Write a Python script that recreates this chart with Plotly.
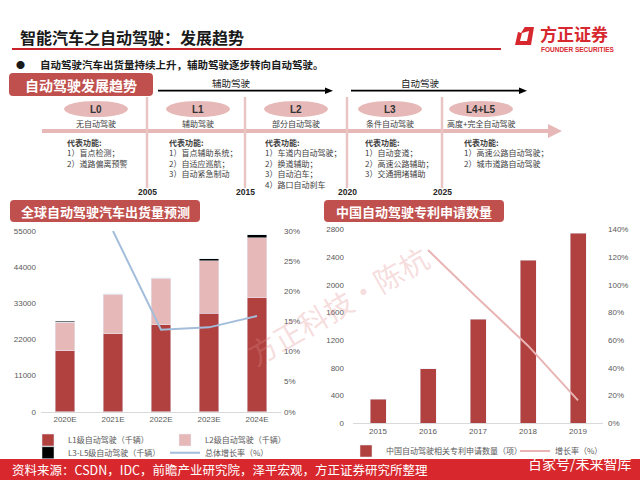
import plotly.graph_objects as go

# 全球自动驾驶汽车出货量预测（千辆）
ship_years = ["2020E", "2021E", "2022E", "2023E", "2024E"]
ship_l1 = [18500, 23700, 26400, 30000, 34700]
ship_l2 = [8800, 12000, 14200, 15900, 18300]
ship_l3_l5 = [300, 200, 200, 700, 900]
ship_growth = [None, 0.30, 0.136, 0.14, 0.159]

# 中国自动驾驶专利申请数量（项）
patent_years = ["2015", "2016", "2017", "2018", "2019"]
patent_counts = [350, 790, 1500, 2350, 2740]
patent_growth = [None, 1.25, 0.90, 0.56, 0.165]

# timeline text
stage_codes = ["L0", "L1", "L2", "L3", "L4+L5"]
stage_names = ["无自动驾驶", "辅助驾驶", "部分自动驾驶", "条件自动驾驶", "高度+完全自动驾驶"]
stage_features = [
    ["1）盲点检测；", "2）道路偏离预警"],
    ["1）盲点辅助系统；", "2）自适应巡航；", "3）自动紧急制动"],
    ["1）车道内自动驾驶；", "2）换道辅助；", "3）自动泊车；", "4）路口自动刹车"],
    ["1）自动变道；", "2）高速公路辅助；", "3）交通拥堵辅助"],
    ["1）高速公路自动驾驶；", "2）城市道路自动驾驶"],
]
milestone_years = ["2005", "2015", "2020", "2025"]

W, H = 640, 480
CJK = "Noto Sans CJK SC"
NUM = "Liberation Sans, Noto Sans CJK SC"
RED = "#B0413E"
PINK = "#E6B9B8"
TICK = dict(family=NUM, size=8, color="#595959")


def px(x):
    return x / W


def py(y):
    return 1 - y / H


def rrect(x0, y0, x1, y1, r):
    p = lambda x, y: f"{px(x):.5f},{py(y):.5f}"
    return (f"M {p(x0 + r, y0)} L {p(x1 - r, y0)} Q {p(x1, y0)} {p(x1, y0 + r)} "
            f"L {p(x1, y1 - r)} Q {p(x1, y1)} {p(x1 - r, y1)} L {p(x0 + r, y1)} "
            f"Q {p(x0, y1)} {p(x0, y1 - r)} L {p(x0, y0 + r)} Q {p(x0, y0)} {p(x0 + r, y0)} Z")


def poly(pts):
    return "M " + " L ".join(f"{px(x):.5f},{py(y):.5f}" for x, y in pts) + " Z"


fig = go.Figure()

# left chart
fig.add_trace(go.Bar(x=ship_years, y=ship_l1, name="L1级自动驾驶（千辆）", marker_color=RED,
                     width=0.4, xaxis="x", yaxis="y", legend="legend"))
fig.add_trace(go.Bar(x=ship_years, y=ship_l2, name="L2级自动驾驶（千辆）", marker_color=PINK,
                     width=0.4, xaxis="x", yaxis="y", legend="legend"))
fig.add_trace(go.Bar(x=ship_years, y=ship_l3_l5, name="L3-L5级自动驾驶（千辆）", marker_color="black",
                     width=0.4, xaxis="x", yaxis="y", legend="legend2"))
fig.add_trace(go.Scatter(x=ship_years, y=ship_growth, name="总体增长率（%）", mode="lines",
                         line=dict(color="#A3BDDA", width=2), xaxis="x", yaxis="y2", legend="legend2"))

# right chart
fig.add_trace(go.Bar(x=patent_years, y=patent_counts, name="中国自动驾驶相关专利申请数量（项）",
                     marker_color=RED, width=0.32, xaxis="x2", yaxis="y3", legend="legend3"))
fig.add_trace(go.Scatter(x=patent_years, y=patent_growth, name="增长率（%）", mode="lines",
                         line=dict(color="#E8B4B4", width=2), xaxis="x2", yaxis="y4", legend="legend4"))

shapes = []
annos = []

# title, rule, logo
annos.append(dict(x=px(18), y=py(37), xanchor="left", text="<b>智能汽车之自动驾驶：发展趋势</b>",
                  font=dict(family=CJK, size=16, color="#1a1a1a")))
shapes.append(dict(type="line", x0=px(12), x1=px(501), y0=py(49), y1=py(49),
                   line=dict(color="#C8232B", width=2)))
# logo mark: slanted square outline, open at the top-left
shapes.append(dict(type="path", path=poly([(515, 45), (518, 32), (523, 27), (534, 27), (531, 45)]),
                   fillcolor="#D7282F", line_width=0))
shapes.append(dict(type="path", path=poly([(520, 41), (522, 33), (529, 31), (527, 41)]),
                   fillcolor="white", line_width=0))
shapes.append(dict(type="path", path=poly([(516, 31), (523, 25), (526, 25), (521, 33)]),
                   fillcolor="white", line_width=0))
annos.append(dict(x=px(574), y=py(34), text="<b>方正证券</b>",
                  font=dict(family=CJK, size=17, color="#D7282F")))
annos.append(dict(x=px(578), y=py(49.5), text="<b>FOUNDER SECURITIES</b>",
                  font=dict(family=NUM, size=6.5, color="#D7282F")))

# bullet
annos.append(dict(x=px(20), y=py(65), text="●", font=dict(family=CJK, size=9, color="#1a1a1a")))
annos.append(dict(x=px(38), y=py(65), xanchor="left",
                  text="<b>自动驾驶汽车出货量持续上升，辅助驾驶逐步转向自动驾驶。</b>",
                  font=dict(family=CJK, size=10.5, color="#1a1a1a")))

# header boxes
shapes.append(dict(type="path", path=rrect(9, 73, 153, 96, 4), fillcolor="#C0504D", line_width=0))
annos.append(dict(x=px(81), y=py(84.5), text="<b>自动驾驶发展趋势</b>",
                  font=dict(family=CJK, size=14, color="white")))
shapes.append(dict(type="path", path=rrect(10, 200, 200, 222, 4), fillcolor="#C0504D", line_width=0))
annos.append(dict(x=px(105), y=py(211), text="<b>全球自动驾驶汽车出货量预测</b>",
                  font=dict(family=CJK, size=13, color="white")))
shapes.append(dict(type="path", path=rrect(324, 200, 504, 222, 4), fillcolor="#C0504D", line_width=0))
annos.append(dict(x=px(414), y=py(211), text="<b>中国自动驾驶专利申请数量</b>",
                  font=dict(family=CJK, size=13, color="white")))

# phase arrows
for x0, x1, label, lx in [(158, 333, "辅助驾驶", 231), (351, 527, "自动驾驶", 420)]:
    shapes.append(dict(type="line", x0=px(x0), x1=px(x1 - 6), y0=py(90.7), y1=py(90.7),
                       line=dict(color="black", width=1.8)))
    shapes.append(dict(type="path", path=poly([(x1 - 8, 87.5), (x1, 90.7), (x1 - 8, 94)]),
                       fillcolor="black", line_width=0))
    annos.append(dict(x=px(lx), y=py(82.5), text=label, font=dict(family=CJK, size=9.5, color="#1a1a1a")))

# timeline
shapes.append(dict(type="line", x0=px(42), x1=px(550), y0=py(131), y1=py(131),
                   line=dict(color=PINK, width=4)))
shapes.append(dict(type="path", path=poly([(548, 124), (562, 131), (548, 138)]),
                   fillcolor=PINK, line_width=0))
vx = [147, 245, 347, 442]
for x, yr in zip(vx, milestone_years):
    shapes.append(dict(type="line", x0=px(x), x1=px(x), y0=py(97), y1=py(188),
                       line=dict(color="#E8C4C4", width=2.5)))
    annos.append(dict(x=px(x), y=py(192), text=f"<b>{yr}</b>", font=dict(family=NUM, size=8.5, color="#262626")))

cx = [96, 198, 296, 390, 481]
fx = [65, 167, 263, 363, 462]
for i, code in enumerate(stage_codes):
    shapes.append(dict(type="circle", x0=px(cx[i] - 32), x1=px(cx[i] + 32), y0=py(117), y1=py(101),
                       fillcolor=PINK, line_width=0))
    annos.append(dict(x=px(cx[i]), y=py(110), text=f"<b>{code}</b>",
                      font=dict(family=NUM, size=10, color="#333333")))
    annos.append(dict(x=px(cx[i]), y=py(123.5), text=stage_names[i],
                      font=dict(family=CJK, size=8, color="#404040")))
    annos.append(dict(x=px(fx[i]), y=py(135), xanchor="left", yanchor="top", align="left",
                      text="<b>代表功能:</b><br>" + "<br>".join(stage_features[i]),
                      font=dict(family=CJK, size=8, color="#404040")))

# footer
shapes.append(dict(type="rect", x0=0, x1=1, y0=0, y1=py(459), fillcolor="#D8282E", line_width=0))
annos.append(dict(x=px(10), y=py(469.5), xanchor="left",
                  text="资料来源：CSDN，IDC，前瞻产业研究院，泽平宏观，方正证券研究所整理",
                  font=dict(family=CJK, size=12.5, color="white")))
annos.append(dict(x=px(634), y=py(463), xanchor="right", text="百家号/未来智库",
                  font=dict(family=CJK, size=14, color="white")))

# watermark
annos.append(dict(x=px(337), y=py(305), text="方正科技·陈杭", textangle=-30,
                  font=dict(family=CJK, size=29, color="rgba(225,140,140,0.3)")))

for a in annos:
    a.setdefault("xref", "paper")
    a.setdefault("yref", "paper")
    a.setdefault("xanchor", "center")
    a.setdefault("yanchor", "middle")
    a.setdefault("showarrow", False)
for s in shapes:
    s.setdefault("xref", "paper")
    s.setdefault("yref", "paper")

leg = dict(orientation="h", xanchor="left", yanchor="middle", entrywidth=92, entrywidthmode="pixels",
           font=dict(family=CJK, size=8, color="#595959"), itemwidth=30, bgcolor="rgba(0,0,0,0)",
           tracegroupgap=0, traceorder="normal")

fig.update_layout(
    width=W, height=H, autosize=False,
    margin=dict(l=0, r=0, t=0, b=0, autoexpand=False),
    paper_bgcolor="white", plot_bgcolor="rgba(0,0,0,0)",
    barmode="stack", bargap=0.6,
    font=dict(family=CJK),
    xaxis=dict(domain=[px(41), px(281)], anchor="y", showline=True, linecolor="#D9D9D9",
               tickfont=TICK, showgrid=False, fixedrange=True),
    yaxis=dict(domain=[py(411.7), py(231)], range=[0, 55000], tickvals=[0, 11000, 22000, 33000, 44000, 55000],
               tickformat="d", showgrid=False, zeroline=False, tickfont=TICK, ticklabelstandoff=4, anchor="x"),
    yaxis2=dict(overlaying="y", side="right", anchor="x", range=[0, 0.30], dtick=0.05, tickformat=".0%",
                showgrid=False, zeroline=False, tickfont=TICK, ticklabelstandoff=2),
    xaxis2=dict(domain=[px(353), px(603)], anchor="y3", showline=True, linecolor="#D9D9D9",
                tickfont=TICK, showgrid=False),
    yaxis3=dict(domain=[py(423.3), py(229.3)], range=[0, 2800], dtick=400, anchor="x2",
                showgrid=False, zeroline=False, tickfont=TICK, ticklabelstandoff=8),
    yaxis4=dict(overlaying="y3", side="right", anchor="x2", range=[0, 1.4], dtick=0.2, tickformat=".0%",
                showgrid=False, zeroline=False, tickfont=TICK, ticklabelstandoff=4),
    legend=dict(leg, x=px(28), y=py(440)),
    legend2=dict(leg, x=px(28), y=py(452.7)),
    legend3=dict(leg, x=px(346), y=py(451), entrywidth=0),
    legend4=dict(leg, x=px(515), y=py(451), entrywidth=0),
    shapes=shapes,
    annotations=annos,
    showlegend=True,
)

# the page body has a default 8px margin; drop it so the figure sits at the window origin
fig.write_html("out.html", config={"displayModeBar": False},
               post_script="document.body.style.margin='0';")
